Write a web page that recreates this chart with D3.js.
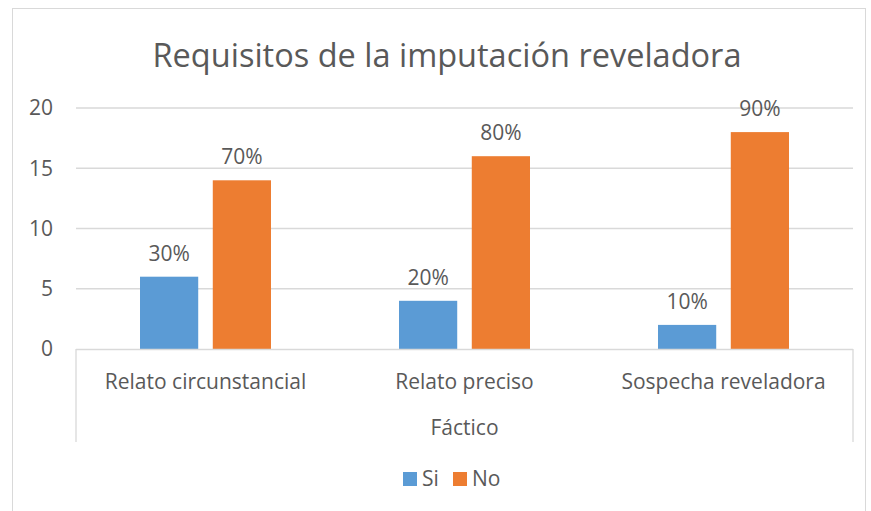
<!DOCTYPE html>
<html>
<head>
<meta charset="utf-8">
<script src="https://cdn.jsdelivr.net/npm/d3@7"></script>
<style>
  body { margin: 0; background: #fff; }
  text { font-family: "Open Sans", "Noto Sans", sans-serif; fill: #595959; }
</style>
</head>
<body>
<div id="chart"></div>
<script>
const categories = ['Relato circunstancial', 'Relato preciso', 'Sospecha reveladora'];
const groupLabel = 'Fáctico';
const seriesNames = ['Si', 'No'];
const siValues = [6, 4, 2];
const noValues = [14, 16, 18];
const siLabels = ['30%', '20%', '10%'];
const noLabels = ['70%', '80%', '90%'];
const yTicks = [0, 5, 10, 15, 20];
const colors = ['#5B9BD5', '#ED7D31'];

const width = 871, height = 511;
const margin = { top: 108, right: 18, bottom: 162, left: 76 };
const plotW = width - margin.left - margin.right;
const plotH = height - margin.top - margin.bottom;

const svg = d3.select('#chart').append('svg')
  .attr('width', width)
  .attr('height', height);

// chart frame
svg.append('rect')
  .attr('x', 12.5).attr('y', 8.5)
  .attr('width', 853).attr('height', 520)
  .attr('fill', 'none').attr('stroke', '#d9d9d9').attr('stroke-width', 1);

svg.append('text')
  .attr('x', 447).attr('y', 67)
  .attr('text-anchor', 'middle')
  .style('font-size', '32.5px')
  .text('Requisitos de la imputación reveladora');

const chart = svg.append('g')
  .attr('transform', `translate(${margin.left},${margin.top})`);

const x = d3.scaleBand().domain(categories).range([0, plotW]);
const y = d3.scaleLinear().domain([0, 20]).range([plotH, 0]);
const x1 = d3.scaleBand().domain(seriesNames)
  .range([64, x.bandwidth() - 64]).paddingInner(0.2);

// gridlines
chart.selectAll('.grid')
  .data(yTicks.filter(d => d > 0))
  .enter().append('line')
  .attr('x1', 0).attr('x2', plotW)
  .attr('y1', d => y(d)).attr('y2', d => y(d))
  .attr('stroke', '#d9d9d9').attr('stroke-width', 1.3);

// y tick labels
chart.selectAll('.ytick')
  .data(yTicks)
  .enter().append('text')
  .attr('x', -23).attr('y', d => y(d))
  .attr('dy', '0.35em')
  .attr('text-anchor', 'end')
  .style('font-size', '21px')
  .text(d => d);

const rows = categories.map((c, i) => ({
  cat: c,
  vals: [
    { s: 'Si', v: siValues[i], label: siLabels[i] },
    { s: 'No', v: noValues[i], label: noLabels[i] }
  ]
}));

const groups = chart.selectAll('.cat')
  .data(rows)
  .enter().append('g')
  .attr('transform', d => `translate(${x(d.cat)},0)`);

groups.selectAll('rect')
  .data(d => d.vals)
  .enter().append('rect')
  .attr('x', d => x1(d.s))
  .attr('width', x1.bandwidth())
  .attr('y', d => y(d.v))
  .attr('height', d => plotH - y(d.v))
  .attr('fill', (d, i) => colors[i]);

groups.selectAll('.lbl')
  .data(d => d.vals)
  .enter().append('text')
  .attr('x', d => x1(d.s) + x1.bandwidth() / 2)
  .attr('y', d => y(d.v) - 16)
  .attr('text-anchor', 'middle')
  .style('font-size', '21px')
  .text(d => d.label);

// category axis
chart.append('line')
  .attr('x1', 0).attr('x2', plotW)
  .attr('y1', plotH + 0.5).attr('y2', plotH + 0.5)
  .attr('stroke', '#d9d9d9').attr('stroke-width', 1.3);

chart.selectAll('.sep')
  .data([0, plotW])
  .enter().append('line')
  .attr('x1', d => d).attr('x2', d => d)
  .attr('y1', plotH).attr('y2', plotH + 93)
  .attr('stroke', '#d9d9d9').attr('stroke-width', 1.3);

chart.selectAll('.catlbl')
  .data(categories)
  .enter().append('text')
  .attr('x', d => x(d) + x.bandwidth() / 2)
  .attr('y', plotH + 40)
  .attr('text-anchor', 'middle')
  .style('font-size', '21px')
  .text(d => d);

chart.append('text')
  .attr('x', plotW / 2)
  .attr('y', plotH + 86)
  .attr('text-anchor', 'middle')
  .style('font-size', '21px')
  .text(groupLabel);

// legend
const legend = svg.append('g').attr('transform', 'translate(403,472)');
const items = legend.selectAll('g')
  .data(seriesNames)
  .enter().append('g')
  .attr('transform', (d, i) => `translate(${i * 50},0)`);
items.append('rect')
  .attr('width', 14).attr('height', 14)
  .attr('fill', (d, i) => colors[i]);
items.append('text')
  .attr('x', 19).attr('y', 14)
  .style('font-size', '21px')
  .text(d => d);
</script>
</body>
</html>
